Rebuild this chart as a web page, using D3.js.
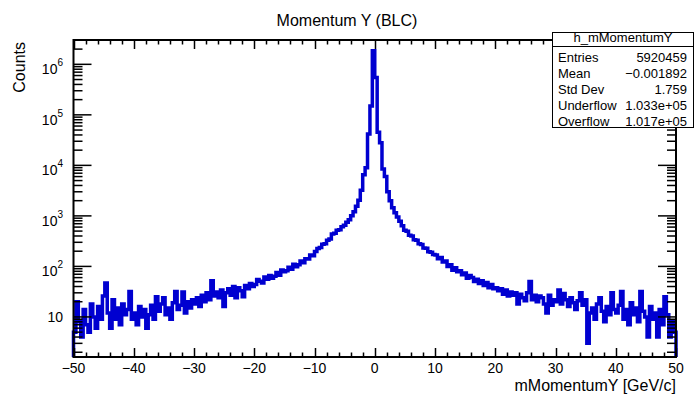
<!DOCTYPE html>
<html>
<head>
<meta charset="utf-8">
<script src="https://cdn.jsdelivr.net/npm/d3@7"></script>
<style>
  body { margin: 0; background: #fff; }
  svg { display: block; font-family: "Liberation Sans", Arial, Helvetica, sans-serif; }
</style>
</head>
<body>
<svg id="chart" width="694" height="397"></svg>
<script>
// binning of h_mMomentumY
var xMin = -50,
    xMax = 50,
    binWidth = 0.4;

// bin contents, 25 bins per 10 GeV/c
var counts_m50_m40 = [5, 20, 8, 4, 14, 7, 5, 18, 10, 6, 16, 9, 26, 47, 12, 6, 22, 9, 15, 7, 18, 11, 14, 32, 9];
var counts_m40_m30 = [12, 7, 16, 10, 14, 6, 11, 17, 9, 25, 13, 18, 24, 11, 15, 9, 19, 32, 14, 17, 31, 12, 20, 15, 22];
var counts_m30_m20 = [18, 24, 16, 27, 20, 30, 22, 52, 26, 31, 24, 34, 16, 30, 36, 27, 40, 24, 38, 33, 25, 42, 36, 46, 40];
var counts_m20_m10 = [44, 55, 51, 47, 62, 56, 66, 58, 64, 76, 67, 85, 78, 82, 96, 88, 110, 98, 108, 128, 118, 142, 140, 168, 162];
var counts_m10_0 = [198, 226, 238, 276, 282, 330, 350, 440, 455, 520, 530, 610, 650, 750, 840, 1010, 1210, 1560, 2050, 3200, 6500, 9000, 42000, 150000, 1860000];
var counts_0_10 = [550000, 45000, 28000, 8500, 6000, 3000, 2000, 1450, 1150, 950, 780, 640, 520, 495, 415, 398, 338, 328, 280, 270, 232, 228, 194, 190, 172];
var counts_10_20 = [168, 142, 150, 122, 128, 100, 108, 84, 94, 78, 82, 68, 74, 58, 66, 60, 50, 56, 46, 52, 42, 48, 38, 44, 36];
var counts_20_30 = [38, 33, 36, 28, 34, 26, 31, 27, 30, 18, 28, 24, 21, 30, 50, 22, 27, 20, 26, 24, 18, 12, 27, 17, 22];
var counts_30_40 = [20, 34, 18, 29, 22, 16, 24, 19, 14, 21, 30, 17, 22, 3, 12, 15, 9, 18, 24, 13, 8, 16, 11, 30, 14];
var counts_40_50 = [12, 17, 32, 9, 14, 7, 19, 11, 15, 8, 32, 13, 10, 4, 16, 9, 12, 4, 14, 7, 25, 11, 4, 8, 5];

// axis ticks
var xTickValues = [-50, -40, -30, -20, -10, 0, 10, 20, 30, 40, 50];
var yDecades = [1, 2, 3, 4, 5, 6];

// stats box
var statsName = 'h_mMomentumY';
var statLabels = ['Entries', 'Mean', 'Std Dev', 'Underflow', 'Overflow'];
var statValues = ['5920459', '\u22120.001892', '1.759', '1.033e+05', '1.017e+05'];

var counts = [].concat(counts_m50_m40, counts_m40_m30, counts_m30_m20, counts_m20_m10, counts_m10_0,
                       counts_0_10, counts_10_20, counts_20_30, counts_30_40, counts_40_50);

var svg = d3.select('#chart');

var frame = { left: 73.5, right: 676, top: 40, bottom: 357 };

var x = d3.scaleLinear()
    .domain([xMin, xMax])
    .range([frame.left, frame.right]);

var y = d3.scaleLog()
    .domain([1.61, 3.03e6])
    .range([frame.bottom, frame.top]);

var yLow = y.domain()[0];

// histogram outline, ROOT style: from the baseline up, steps, back down
var pts = [[xMin, yLow]];
counts.forEach(function(c, i) {
    var x0 = xMin + i * binWidth;
    pts.push([x0, c]);
    pts.push([x0 + binWidth, c]);
});
pts.push([xMax, yLow]);

var line = d3.line()
    .x(function(d) { return x(d[0]); })
    .y(function(d) { return y(d[1]); });

svg.append('path')
    .datum(pts)
    .attr('d', line)
    .attr('fill', 'none')
    .attr('stroke', '#0000d0')
    .attr('stroke-width', 3.5)
    .attr('stroke-linejoin', 'miter');

// frame + ticks
var axes = svg.append('g').attr('stroke', '#000');

axes.append('rect')
    .attr('x', frame.left)
    .attr('y', frame.top)
    .attr('width', frame.right - frame.left)
    .attr('height', frame.bottom - frame.top)
    .attr('fill', 'none')
    .attr('stroke-width', 2);

// x ticks, 5 divisions between labels, on bottom and top
var xTicks = d3.range(xMin, xMax + 0.001, 2);
xTicks.forEach(function(v) {
    var major = Math.abs(v % 10) < 1e-6;
    var len = major ? 9 : 4.5;
    var px = Math.round(x(v)) + 0.5;
    axes.append('line').attr('x1', px).attr('x2', px)
        .attr('y1', frame.bottom).attr('y2', frame.bottom - len).attr('stroke-width', 1.5);
    axes.append('line').attr('x1', px).attr('x2', px)
        .attr('y1', frame.top).attr('y2', frame.top + len).attr('stroke-width', 1.5);
});

// y ticks, decades plus 2..9 on both sides
var yTicks = [];
for (var k = 0; k <= 6; k++) {
    for (var m = 1; m <= 9; m++) {
        var v = m * Math.pow(10, k);
        if (v >= yLow && v <= y.domain()[1]) yTicks.push({ v: v, major: m === 1 });
    }
}
yTicks.forEach(function(t) {
    var len = t.major ? 18 : 9;
    var py = y(t.v);
    axes.append('line').attr('x1', frame.left).attr('x2', frame.left + len)
        .attr('y1', py).attr('y2', py).attr('stroke-width', 1.5);
    axes.append('line').attr('x1', frame.right).attr('x2', frame.right - len)
        .attr('y1', py).attr('y2', py).attr('stroke-width', 1.5);
});

// x labels
svg.append('g').selectAll('text')
    .data(xTickValues)
    .enter().append('text')
    .attr('x', function(d) { return x(d); })
    .attr('y', 373)
    .attr('text-anchor', 'middle')
    .attr('font-size', 14)
    .text(function(d) { return d < 0 ? '\u2212' + Math.abs(d) : d; });

// y labels
var yLabels = svg.append('g').selectAll('text')
    .data(yDecades)
    .enter().append('text')
    .attr('x', 63)
    .attr('y', function(d) { return y(Math.pow(10, d)) + (d === 1 ? 5 : 10); })
    .attr('text-anchor', 'end')
    .attr('font-size', 14);

yLabels.append('tspan').text('10');
yLabels.filter(function(d) { return d > 1; })
    .append('tspan')
    .attr('font-size', 10)
    .attr('dy', -8)
    .text(function(d) { return d; });

// titles
svg.append('text')
    .attr('x', 347)
    .attr('y', 26)
    .attr('text-anchor', 'middle')
    .attr('font-size', 16)
    .text('Momentum Y (BLC)');

svg.append('text')
    .attr('x', frame.right)
    .attr('y', 391)
    .attr('text-anchor', 'end')
    .attr('font-size', 16)
    .text('mMomentumY [GeV/c]');

svg.append('text')
    .attr('transform', 'translate(25,42) rotate(-90)')
    .attr('text-anchor', 'end')
    .attr('font-size', 16)
    .text('Counts');

// stats box
var box = { left: 552.5, right: 693.5, top: 32.5, bottom: 127.5, header: 46.5 };
var stats = svg.append('g');

stats.append('rect')
    .attr('x', box.left)
    .attr('y', box.top)
    .attr('width', box.right - box.left)
    .attr('height', box.bottom - box.top)
    .attr('fill', '#fff')
    .attr('stroke', '#000')
    .attr('stroke-width', 1);

stats.append('line')
    .attr('x1', box.left).attr('x2', box.right)
    .attr('y1', box.header).attr('y2', box.header)
    .attr('stroke', '#000');

stats.append('text')
    .attr('x', (box.left + box.right) / 2)
    .attr('y', 42)
    .attr('text-anchor', 'middle')
    .attr('font-size', 13)
    .text(statsName);

statLabels.forEach(function(lbl, i) {
    var by = 62.3 + i * 16;
    stats.append('text')
        .attr('x', 558)
        .attr('y', by)
        .attr('font-size', 13)
        .text(lbl);
    stats.append('text')
        .attr('x', 687)
        .attr('y', by)
        .attr('text-anchor', 'end')
        .attr('font-size', 13)
        .text(statValues[i]);
});
</script>
</body>
</html>
